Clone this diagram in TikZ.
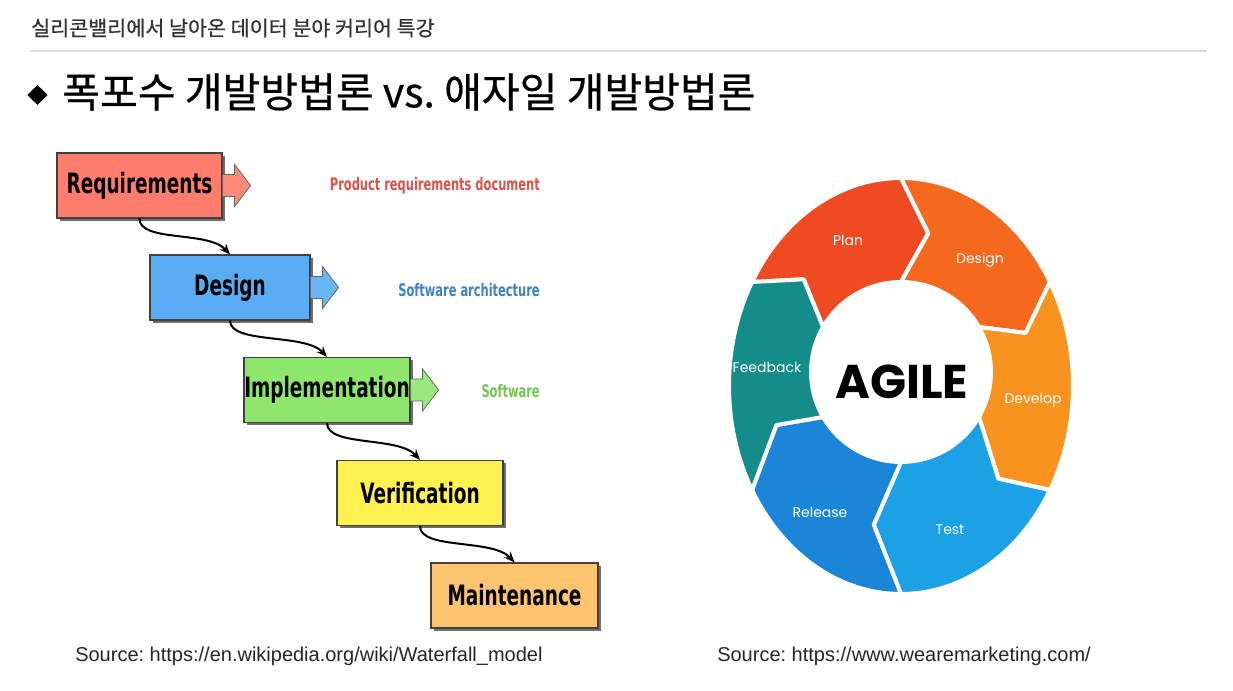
\documentclass[tikz,border=0pt]{standalone}
\usepackage{fontspec}
\setmainfont{Liberation Sans}
\newfontfamily\kr[FakeBold=0.6]{Noto Sans CJK KR}
\newfontfamily\wf[FakeStretch=0.66]{DejaVu Sans}
\newfontfamily\pop{Poppins}
\usetikzlibrary{arrows.meta,shadows,shapes.geometric,calc}
\frenchspacing
\definecolor{reqc}{HTML}{FF7D6D}
\definecolor{desc}{HTML}{5AADF3}
\definecolor{impc}{HTML}{8EE76C}
\definecolor{verc}{HTML}{FFF150}
\definecolor{mntc}{HTML}{FFC470}
\definecolor{reqa}{HTML}{FF8878}
\definecolor{desa}{HTML}{68B6F5}
\definecolor{impa}{HTML}{98EA7C}
\definecolor{reqt}{HTML}{DD524A}
\definecolor{dest}{HTML}{3B82C8}
\definecolor{impt}{HTML}{74C64E}
\definecolor{planc}{HTML}{EE4B22}
\definecolor{designc}{HTML}{F5691F}
\definecolor{devc}{HTML}{F7931E}
\definecolor{testc}{HTML}{1DA1E6}
\definecolor{relc}{HTML}{1B85D8}
\definecolor{fbc}{HTML}{148C8A}
\newcommand\sarrow[2]{\filldraw[fill=#2, draw=black!60, line width=0.6pt] ($(#1.east)+(0,11)$) -- ++(12,0) -- ++(0,10) -- ++(16,-21) -- ++(-16,-21) -- ++(0,10) -- ++(-12,0) -- cycle;}
\def\dl{12}
\newcommand\agseg[2]{%
 \pgfmathsetmacro\aA{#1+30}\pgfmathsetmacro\aB{#1-30}%
 \pgfmathsetmacro\tA{#1+30-\dl}\pgfmathsetmacro\tB{#1-30-\dl}%
 \filldraw[fill=#2, draw=white, line width=3pt, line join=round]
  plot[domain=\aA:\aB, samples=40] ({172*cos(\x)},{208*sin(\x)})
  -- ({131*cos(\tB)},{7+149*sin(\tB)})
  -- plot[domain=\aB:\aA, samples=40] ({90*cos(\x)},{14+90*sin(\x)})
  -- ({131*cos(\tA)},{7+149*sin(\tA)}) -- cycle;}
\begin{document}
\begin{tikzpicture}[x=0.75pt,y=0.75pt,
  wbox/.style={draw=black!75, line width=0.8pt, minimum height=48.75pt, inner sep=0pt,
    font=\wf\bfseries\fontsize{21}{21}\selectfont,
    drop shadow={shadow xshift=2.2pt, shadow yshift=-2.2pt, fill=black!70, opacity=0.8}},
  lab/.style={font=\wf\bfseries\fontsize{13}{13}\selectfont, anchor=east, inner sep=0pt},
  conn/.style={line width=1.5pt, -{Stealth[length=8pt,width=6.5pt]}},
  aglab/.style={font=\pop\fontsize{10.5}{10.5}\selectfont, text=white, inner sep=0pt},
  src/.style={font=\fontsize{15}{15}\selectfont, anchor=west, inner sep=0pt, text=black!85}]
\fill[white] (0,0) rectangle (1233,691);
\useasboundingbox (0,0) rectangle (1233,691);
% header
\node[anchor=west, inner sep=0pt, font=\kr\fontsize{15.5}{15.5}\selectfont, text=black!80] (hdr) at (31,663) {실리콘밸리에서 날아온 데이터 분야 커리어 특강};
\draw[gray!25, line width=1.5pt] (30,640) -- (1207,640);
\node[diamond, fill=black, inner sep=0pt, minimum width=15.5pt, minimum height=15pt] (dia) at (37.5,596) {};
\node[anchor=west, inner sep=0pt, font=\kr\fontsize{30.8}{30.8}\selectfont] (title) at (62,599) {폭포수 개발방법론 vs. 애자일 개발방법론};
% waterfall
\node[wbox, fill=reqc, minimum width=123.75pt] (req) at (139.5,505.5) {Requirements};
\node[wbox, fill=desc, minimum width=120pt] (des) at (230,403.5) {Design};
\node[wbox, fill=impc, minimum width=124.5pt] (imp) at (327,301) {Implementation};
\node[wbox, fill=verc, minimum width=124.5pt] (ver) at (420,198) {Verification};
\node[wbox, fill=mntc, minimum width=125.25pt] (mnt) at (514.5,95.5) {Maintenance};
\sarrow{req}{reqa}
\sarrow{des}{desa}
\sarrow{imp}{impa}
\node[lab, text=reqt] (l1) at (540,505) {Product requirements document};
\node[lab, text=dest] (l2) at (540,401) {Software architecture};
\node[lab, text=impt] (l3) at (540,300) {Software};
\draw[conn] (req.south) .. controls +(0,-24) and +(-22,24) .. (des.north);
\draw[conn] (des.south) .. controls +(0,-24) and +(-22,24) .. (imp.north);
\draw[conn] (imp.south) .. controls +(0,-24) and +(-22,24) .. (ver.north);
\draw[conn] (ver.south) .. controls +(0,-24) and +(-22,24) .. (mnt.north);
% agile
\begin{scope}[shift={(901,305)}]
\agseg{120}{planc}
\agseg{60}{designc}
\agseg{0}{devc}
\agseg{-60}{testc}
\agseg{-120}{relc}
\agseg{180}{fbc}
\end{scope}
\node[aglab] (plan) at (848,451) {Plan};
\node[aglab] (design) at (980,431) {Design};
\node[aglab] (develop) at (1033,291) {Develop};
\node[aglab] (test) at (950,161) {Test};
\node[aglab] (release) at (820,179) {Release};
\node[aglab] (feedback) at (767,324) {Feedback};
\node[font=\pop\bfseries\fontsize{35.5}{35.5}\selectfont, inner sep=0pt] (agile) at (902,309) {AGILE};
% sources
\node[src] (s1) at (75,35) {Source: https://en.wikipedia.org/wiki/Waterfall\_model};
\node[src] (s2) at (717,35) {Source: https://www.wearemarketing.com/};
\end{tikzpicture}
\end{document}
